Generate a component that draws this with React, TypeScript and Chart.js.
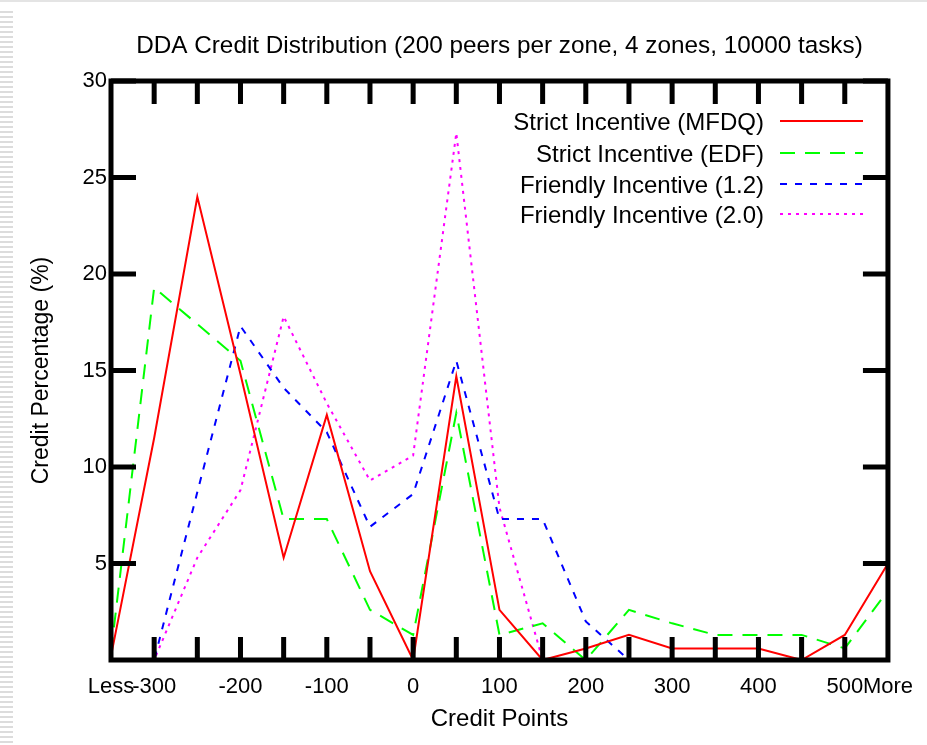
import React, { useEffect, useRef } from 'react';
import { Chart, registerables } from 'chart.js';

Chart.register(...registerables);

const categories = ['Less', '-300', '-250', '-200', '-150', '-100', '-50', '0', '50', '100', '150', '200', '250', '300', '350', '400', '450', '500', 'More'];
const shownTickLabels = ['Less', '-300', '-200', '-100', '0', '100', '200', '300', '400', '500', 'More'];
const yTicks = [5, 10, 15, 20, 25, 30];

const strictMFDQ = [0.2, 11.5, 24, 14.8, 5.3, 12.7, 4.6, 0, 14.7, 2.6, 0, 0.6, 1.3, 0.6, 0.6, 0.6, 0, 1.3, 5.0];
const strictEDF = [0.4, 19.3, 17.4, 15.5, 7.3, 7.3, 2.6, 1.3, 12.8, 1.3, 1.9, 0, 2.6, 1.9, 1.3, 1.3, 1.3, 0.6, 3.6];
const friendly12 = [0, 0, 8.7, 17.3, 14.1, 11.8, 6.9, 8.6, 15.5, 7.3, 7.3, 2.0, 0, 0, 0, 0, 0, 0, 0];
const friendly20 = [0, 0, 5.3, 8.8, 17.8, 13.3, 9.3, 10.6, 27.3, 7.9, 0, 0, 0, 0, 0, 0, 0, 0, 0];

const seriesLabels = ['Strict Incentive (MFDQ)', 'Strict Incentive (EDF)', 'Friendly Incentive (1.2)', 'Friendly Incentive (2.0)'];
const titleText = 'DDA Credit Distribution (200 peers per zone, 4 zones, 10000 tasks)';

const FONT = '"Liberation Sans", Arial, Helvetica, sans-serif';

const gnuplotPlugin = {
  id: 'gnuplotFrame',
  afterDatasetsDraw(chart: any) {
    const { ctx, chartArea, scales } = chart;
    const { left, right, top, bottom } = chartArea;
    const x = scales.x;
    const y = scales.y;
    ctx.save();
    ctx.strokeStyle = '#000';
    ctx.lineWidth = 5;
    ctx.lineCap = 'butt';
    ctx.setLineDash([]);
    ctx.beginPath();
    for (let i = 1; i < categories.length - 1; i++) {
      const px = x.getPixelForValue(i);
      ctx.moveTo(px, bottom);
      ctx.lineTo(px, bottom - 23);
      ctx.moveTo(px, top);
      ctx.lineTo(px, top + 23);
    }
    for (const v of yTicks) {
      const py = y.getPixelForValue(v);
      ctx.moveTo(left, py);
      ctx.lineTo(left + 25, py);
      ctx.moveTo(right, py);
      ctx.lineTo(right - 25, py);
    }
    ctx.stroke();
    ctx.strokeRect(left, top, right - left, bottom - top);

    // title
    ctx.fillStyle = '#000';
    ctx.font = `24.3px ${FONT}`;
    ctx.textAlign = 'center';
    ctx.textBaseline = 'alphabetic';
    ctx.fillText(titleText, (left + right) / 2, 53);

    // legend (gnuplot style)
    const rows = [121, 153, 184, 214];
    chart.data.datasets.forEach((ds: any, i: number) => {
      const ry = rows[i];
      ctx.fillStyle = '#000';
      ctx.textAlign = 'right';
      ctx.font = `24px ${FONT}`;
      ctx.fillText(ds.label, 764, ry + 9);
      ctx.strokeStyle = ds.borderColor;
      ctx.lineWidth = ds.borderWidth;
      ctx.setLineDash(ds.borderDash || []);
      ctx.beginPath();
      ctx.moveTo(780, ry);
      ctx.lineTo(863, ry);
      ctx.stroke();
    });
    ctx.restore();
  },
};

export default function App() {
  const canvasRef = useRef<HTMLCanvasElement | null>(null);

  useEffect(() => {
    const canvas = canvasRef.current;
    if (!canvas) return;
    const mk = (label: string, data: number[], color: string, dash: number[]) => ({
      label,
      data,
      borderColor: color,
      backgroundColor: color,
      borderWidth: 2,
      borderDash: dash,
      pointRadius: 0,
      fill: false,
      tension: 0,
    });
    const chart = new Chart(canvas, {
      type: 'line',
      data: {
        labels: categories,
        datasets: [
          mk(seriesLabels[0], strictMFDQ, '#ff0000', []),
          mk(seriesLabels[1], strictEDF, '#00ff00', [15, 10]),
          mk(seriesLabels[2], friendly12, '#0000ff', [7, 8]),
          mk(seriesLabels[3], friendly20, '#ff00ff', [3, 5]),
        ],
      },
      options: {
        responsive: false,
        animation: false,
        devicePixelRatio: 1,
        layout: { padding: { top: 81, right: 36, left: 0, bottom: 0 } },
        plugins: {
          legend: { display: false },
          title: { display: false },
          tooltip: { enabled: false },
        },
        scales: {
          x: {
            type: 'category',
            offset: false,
            grid: { display: false, drawTicks: false },
            border: { display: false },
            ticks: {
              autoSkip: false,
              maxRotation: 0,
              minRotation: 0,
              padding: 14,
              color: '#000',
              font: { family: FONT, size: 22 },
              callback: (_v: any, idx: number) =>
                shownTickLabels.includes(categories[idx]) ? categories[idx] : '',
            },
            title: {
              display: true,
              text: 'Credit Points',
              color: '#000',
              font: { family: FONT, size: 24 },
              padding: { top: 0, bottom: 11 },
            },
            afterFit: (scale: any) => {
              scale.height = 85;
            },
          },
          y: {
            min: 0,
            max: 30,
            grid: { display: false, drawTicks: false },
            border: { display: false },
            ticks: {
              stepSize: 5,
              padding: 4,
              color: '#000',
              font: { family: FONT, size: 22 },
              callback: (v: any) => (v === 0 ? '' : String(v)),
            },
            title: {
              display: true,
              text: 'Credit Percentage (%)',
              color: '#000',
              font: { family: FONT, size: 23 },
              padding: { top: 28, bottom: 0 },
            },
            afterFit: (scale: any) => {
              scale.width = 111;
            },
          },
        },
      },
      plugins: [gnuplotPlugin],
    });
    return () => chart.destroy();
  }, []);

  return (
    <div style={{ position: 'fixed', left: 0, top: 0, width: 927, height: 745, background: '#fff' }}>
      <div
        style={{
          position: 'absolute',
          left: 0,
          top: 0,
          width: 927,
          height: 2,
          background: '#e4e4e4',
        }}
      />
      <div
        style={{
          position: 'absolute',
          left: 0,
          top: 8,
          width: 13,
          height: 737,
          background: 'repeating-linear-gradient(to bottom, #ffffff 0px, #ffffff 3px, #dcdcdc 3px, #dcdcdc 5px)',
        }}
      />
      <canvas ref={canvasRef} width={927} height={745} style={{ position: 'absolute', left: 0, top: 0 }} />
    </div>
  );
}
